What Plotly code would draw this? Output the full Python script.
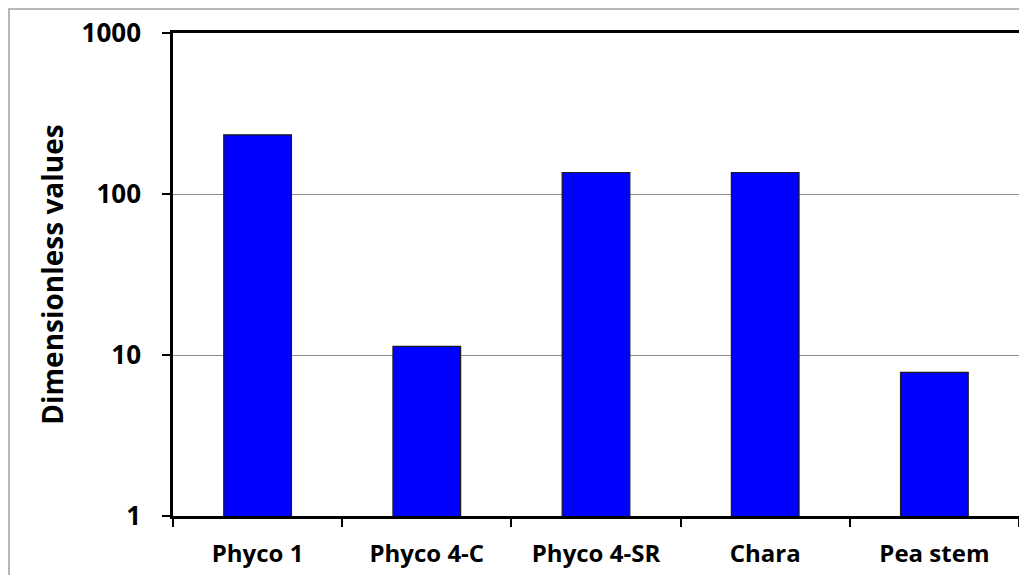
import plotly.graph_objects as go

categories = ["Phyco 1", "Phyco 4-C", "Phyco 4-SR", "Chara", "Pea stem"]
values = [233, 11.3, 136, 136, 7.8]
y_tickvals = [1, 10, 100, 1000]
y_ticktext = ["1", "10", "100", "1000"]

FONT = "Open Sans"
OFF = 8  # default page body margin
W, H = 1027 - OFF, 575 - OFF
L, R, T, B = 173 - OFF, 8, 33 - OFF, 59

fig = go.Figure()
fig.add_trace(go.Bar(
    x=categories, y=values, width=0.4,
    marker=dict(color="#0000FF", line=dict(color="#1a1a1a", width=1.2)),
))

pw = W - L - R
ph = H - T - B
fig.add_shape(type="rect", xref="paper", yref="paper",
              x0=(1 - L) / pw, x1=(W + 20 - L) / pw,
              y0=-(B + 20) / ph, y1=(H - 1 - B) / ph,
              line=dict(color="#a0a0a0", width=1.5), layer="below")

fig.update_layout(
    width=W, height=H,
    margin=dict(l=L, r=R, t=T, b=B, pad=0, autoexpand=False),
    paper_bgcolor="white", plot_bgcolor="white",
    showlegend=False,
    font=dict(family=FONT, color="black"),
    xaxis=dict(
        type="category", range=[-0.5, 4.5], automargin=False,
        tickson="boundaries", ticks="outside", ticklen=8, tickwidth=2, tickcolor="black",
        showline=True, linecolor="black", linewidth=2.5, mirror=True,
        showgrid=False,
        tickfont=dict(family=FONT, size=24, color="black", weight="bold"),
        ticklabelstandoff=14,
    ),
    yaxis=dict(
        type="log", range=[0, 3], automargin=False,
        tickvals=y_tickvals, ticktext=y_ticktext,
        ticks="outside", ticklen=8, tickwidth=2, tickcolor="black",
        showline=True, linecolor="black", linewidth=2.5, mirror=True,
        showgrid=True, gridcolor="#8c8c8c", gridwidth=1,
        tickfont=dict(family=FONT, size=26, color="black", weight="bold"),
        ticklabelstandoff=16,
        title=dict(text="Dimensionless values",
                   font=dict(family=FONT, size=28, color="black", weight="bold"),
                   standoff=10),
    ),
)

fig.write_html("out.html")
